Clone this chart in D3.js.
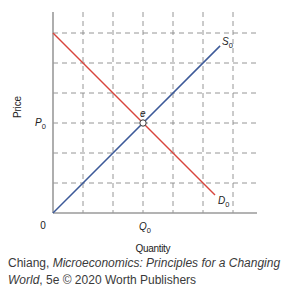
<!DOCTYPE html>
<html>
<head>
<meta charset="utf-8">
<script src="https://cdn.jsdelivr.net/npm/d3@7"></script>
<style>
  body { margin: 0; background: #fff; }
  svg { display: block; }
</style>
</head>
<body>
<div id="chart"></div>
<script>
// grid positions in quantity / price units
let gridQ = [1, 2, 3, 4, 5, 6];
let gridP = [1, 2, 3, 4, 5, 6];
// curves
let demand = [[0, 6], [5.4, 0.6]];
let supply = [[0, 0], [5.57, 5.57]];
let equilibrium = [3, 3];

let width = 283;
let height = 292;

let x = d3.scaleLinear().domain([0, 6.8]).range([53, 257]);
let y = d3.scaleLinear().domain([0, 6.7]).range([213, 12]);

let svg = d3.select('#chart')
  .append('svg')
  .attr('width', width)
  .attr('height', height)
  .style('font-family', 'Liberation Sans, Arial, sans-serif');

// dashed grid
svg.selectAll('.vgrid')
  .data(gridQ)
  .enter()
  .append('line')
  .attr('x1', d => x(d)).attr('x2', d => x(d))
  .attr('y1', y(6.7)).attr('y2', y(0))
  .attr('stroke', '#8a8a8a')
  .attr('stroke-width', 0.9)
  .attr('stroke-dasharray', '5,4');

svg.selectAll('.hgrid')
  .data(gridP)
  .enter()
  .append('line')
  .attr('x1', x(0)).attr('x2', x(6.8))
  .attr('y1', d => y(d)).attr('y2', d => y(d))
  .attr('stroke', '#8a8a8a')
  .attr('stroke-width', 0.9)
  .attr('stroke-dasharray', '5,4');

// axes
svg.append('line')
  .attr('x1', x(0)).attr('x2', x(0))
  .attr('y1', y(6.7)).attr('y2', y(0))
  .attr('stroke', '#9a9a9a')
  .attr('stroke-width', 1.6);
svg.append('line')
  .attr('x1', x(0)).attr('x2', x(6.8))
  .attr('y1', y(0)).attr('y2', y(0))
  .attr('stroke', '#9a9a9a')
  .attr('stroke-width', 1.6);

let line = d3.line().x(d => x(d[0])).y(d => y(d[1]));

svg.append('path')
  .datum(demand)
  .attr('d', line)
  .attr('fill', 'none')
  .attr('stroke', '#d8453d')
  .attr('stroke-width', 1.5);

svg.append('path')
  .datum(supply)
  .attr('d', line)
  .attr('fill', 'none')
  .attr('stroke', '#3d5a99')
  .attr('stroke-width', 1.5);

svg.append('circle')
  .attr('cx', x(equilibrium[0]))
  .attr('cy', y(equilibrium[1]))
  .attr('r', 3.2)
  .attr('fill', '#fff')
  .attr('stroke', '#333')
  .attr('stroke-width', 1);

// labels
function sub(t, main, s) {
  t.append('tspan').text(main);
  t.append('tspan').attr('font-size', '7.5px').attr('dy', 3).attr('font-style', 'normal').text(s);
}

let lab = svg.append('g').attr('fill', '#222').attr('font-size', '10px');

lab.append('text')
  .attr('transform', 'translate(21,107) rotate(-90)')
  .attr('text-anchor', 'middle')
  .attr('textLength', 22)
  .text('Price');

sub(lab.append('text').attr('x', 35).attr('y', 126).attr('font-style', 'italic'), 'P', '0');
sub(lab.append('text').attr('x', x(equilibrium[0]) - 4).attr('y', y(0) + 17).attr('font-style', 'italic'), 'Q', '0');

lab.append('text').attr('x', 43).attr('y', y(0) + 16).attr('text-anchor', 'middle').text('0');

lab.append('text')
  .attr('x', x(equilibrium[0]) - 3)
  .attr('y', y(equilibrium[1]) - 6)
  .attr('font-style', 'italic')
  .text('e');

sub(lab.append('text').attr('x', x(supply[1][0]) + 2).attr('y', y(supply[1][1]) - 1).attr('font-style', 'italic'), 'S', '0');
sub(lab.append('text').attr('x', x(demand[1][0]) + 3).attr('y', y(demand[1][1]) + 9).attr('font-style', 'italic'), 'D', '0');

lab.append('text')
  .attr('x', 153).attr('y', 252)
  .attr('text-anchor', 'middle')
  .attr('textLength', 35)
  .text('Quantity');

// caption
let cap = svg.append('text')
  .attr('x', 8).attr('y', 267)
  .attr('font-size', '12px')
  .attr('fill', '#3a3a3a');
cap.append('tspan').text('Chiang, ');
cap.append('tspan').attr('font-style', 'italic').text('Microeconomics: Principles for a Changing');

let cap2 = svg.append('text')
  .attr('x', 8).attr('y', 284)
  .attr('font-size', '12px')
  .attr('fill', '#3a3a3a');
cap2.append('tspan').attr('font-style', 'italic').text('World');
cap2.append('tspan').text(', 5e \u00A9 2020 Worth Publishers');
</script>
</body>
</html>
